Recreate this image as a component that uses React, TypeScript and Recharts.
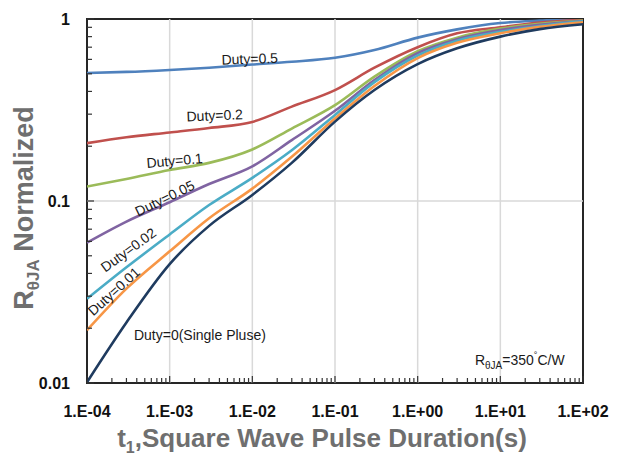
import React from "react";
import {
  LineChart,
  Line,
  XAxis,
  YAxis,
  ReferenceLine,
  ReferenceArea,
  ReferenceDot,
} from "recharts";

// pulse duration t1 (s) and normalized R_thetaJA
const pulseTimes = [1e-4, 3e-4, 1e-3, 3e-3, 1e-2, 3e-2, 1e-1, 3e-1, 1, 3, 10, 30, 100];
const duty05 = [0.505, 0.512, 0.525, 0.54, 0.562, 0.582, 0.612, 0.675, 0.79, 0.877, 0.95, 0.98, 1.0];
const duty02 = [0.208, 0.224, 0.238, 0.252, 0.272, 0.33, 0.407, 0.54, 0.7, 0.834, 0.9, 0.955, 0.99];
const duty01 = [0.12, 0.132, 0.148, 0.162, 0.192, 0.25, 0.336, 0.482, 0.665, 0.79, 0.885, 0.94, 0.98];
const duty005 = [0.059, 0.077, 0.0985, 0.124, 0.155, 0.216, 0.313, 0.462, 0.65, 0.775, 0.87, 0.93, 0.975];
const duty002 = [0.029, 0.0432, 0.0655, 0.095, 0.134, 0.19, 0.297, 0.45, 0.63, 0.76, 0.85, 0.915, 0.97];
const duty001 = [0.0195, 0.033, 0.0529, 0.0804, 0.117, 0.175, 0.284, 0.428, 0.61, 0.74, 0.835, 0.905, 0.96];
const duty0 = [0.0101, 0.0215, 0.045, 0.073, 0.108, 0.162, 0.273, 0.407, 0.565, 0.69, 0.8, 0.88, 0.935];

const seriesKeys = ["d05", "d02", "d01", "d005", "d002", "d001", "d0"];
const seriesValues = [duty05, duty02, duty01, duty005, duty002, duty001, duty0];
const seriesColors = ["#4f81bd", "#c0504d", "#9bbb59", "#8064a2", "#4bacc6", "#f79646", "#1f3b5f"];

const xMajor = [1e-4, 1e-3, 1e-2, 1e-1, 1, 10, 100];
const xTickLabels = ["1.E-04", "1.E-03", "1.E-02", "1.E-01", "1.E+00", "1.E+01", "1.E+02"];
const yMajor = [0.01, 0.1, 1];
const yTickLabels = ["0.01", "0.1", "1"];
const minorSteps = [2, 3, 4, 5, 6, 7, 8, 9];

// curve annotations: text, baseline midpoint in data units, rotation
const noteTexts = ["Duty=0.5", "Duty=0.2", "Duty=0.1", "Duty=0.05", "Duty=0.02", "Duty=0.01", "Duty=0(Single Pluse)"];
const noteT = [9.35e-3, 3.53e-3, 1.16e-3, 9.27e-4, 3.43e-4, 2.31e-4, 2.32e-3];
const noteR = [0.568, 0.2776, 0.1567, 0.0979, 0.0512, 0.0304, 0.01723];
const noteAngle = [-2, -2.5, -5, -26, -36, -42, 0];

const data = pulseTimes.map((t, i) => {
  const row: Record<string, number> = { t };
  seriesKeys.forEach((k, s) => {
    row[k] = seriesValues[s][i];
  });
  return row;
});

const withMinor = (major: number[]) =>
  major.flatMap((d, i) => (i < major.length - 1 ? [d, ...minorSteps.map((m) => m * d)] : [d]));

const xTicks = withMinor(xMajor);
const yTicks = withMinor(yMajor);

const majorIndex = (list: number[], v: number) =>
  list.findIndex((m) => Math.abs(m - v) / m < 1e-9);

const FONT = "'Liberation Sans', Arial, sans-serif";
const GRAY = "#6f6f6f";

const XTick = (props: any) => {
  const { x, y, payload } = props;
  const idx = majorIndex(xMajor, payload.value);
  return (
    <g>
      <line x1={x} x2={x} y1={y} y2={y - (idx >= 0 ? 7 : 5)} stroke="#333" strokeWidth={1.2} />
      {idx >= 0 && (
        <text x={x} y={y + 34} textAnchor="middle" fontSize={16} fontWeight="bold" fill="#111" fontFamily={FONT}>
          {xTickLabels[idx]}
        </text>
      )}
    </g>
  );
};

const YTick = (props: any) => {
  const { x, y, payload } = props;
  const idx = majorIndex(yMajor, payload.value);
  return (
    <g>
      <line x1={x} x2={x + (idx >= 0 ? 7 : 5)} y1={y} y2={y} stroke="#333" strokeWidth={1.2} />
      {idx >= 0 && (
        <text x={x - 17} y={y + 6} textAnchor="end" fontSize={16} fontWeight="bold" fill="#111" fontFamily={FONT}>
          {yTickLabels[idx]}
        </text>
      )}
    </g>
  );
};

const XTitle = () => (
  <text x={322} y={447} textAnchor="middle" fontSize={26} fontWeight="bold" fill={GRAY} fontFamily={FONT}>
    t
    <tspan fontSize={16} dy={6}>1</tspan>
    <tspan fontSize={26} dy={-6}>,Square Wave Pulse Duration(s)</tspan>
  </text>
);

const YTitle = () => (
  <text
    x={33}
    y={208}
    transform="rotate(-90 33 208)"
    textAnchor="middle"
    fontSize={27}
    fontWeight="bold"
    fill={GRAY}
    fontFamily={FONT}
  >
    R
    <tspan fontSize={17} dy={6}>θJA</tspan>
    <tspan fontSize={27} dy={-6}> Normalized</tspan>
  </text>
);

const App = () => {
  return (
    <div>
      <style>{"body{margin:0;background:#fff}"}</style>
      <LineChart width={620} height={457} data={data} margin={{ top: 19, right: 37, left: 7, bottom: 14 }}>
        <XAxis
          dataKey="t"
          type="number"
          scale="log"
          domain={[1e-4, 100]}
          allowDataOverflow
          ticks={xTicks}
          interval={0}
          tick={<XTick />}
          tickLine={false}
          tickSize={0}
          tickMargin={0}
          axisLine={false}
          height={60}
          label={<XTitle />}
        />
        <YAxis
          type="number"
          scale="log"
          domain={[0.01, 1]}
          allowDataOverflow
          ticks={yTicks}
          interval={0}
          tick={<YTick />}
          tickLine={false}
          tickSize={0}
          tickMargin={0}
          axisLine={false}
          width={80}
          label={<YTitle />}
        />
        {xMajor.slice(1, -1).map((v) => (
          <ReferenceLine key={v} x={v} stroke="#d9d9d9" strokeWidth={1.5} />
        ))}
        <ReferenceLine y={0.1} stroke="#d9d9d9" strokeWidth={1.5} />
        {seriesKeys.map((k, s) => (
          <Line
            key={k}
            dataKey={k}
            type="monotone"
            stroke={seriesColors[s]}
            strokeWidth={2.6}
            dot={false}
            isAnimationActive={false}
          />
        ))}
        <ReferenceArea x1={1e-4} x2={100} y1={0.01} y2={1} fill="none" fillOpacity={0} stroke="#262626" strokeWidth={2} />
        {noteTexts.map((txt, i) => (
          <ReferenceDot
            key={txt}
            x={noteT[i]}
            y={noteR[i]}
            r={0}
            shape={(p: any) => (
              <text
                transform={`translate(${p.cx} ${p.cy}) rotate(${noteAngle[i]})`}
                x={0}
                y={0}
                textAnchor="middle"
                fontSize={14}
                fill="#1a1a1a"
                fontFamily={FONT}
              >
                {txt}
              </text>
            )}
          />
        ))}
        <ReferenceDot
          x={17.2}
          y={0.01256}
          r={0}
          shape={(p: any) => (
            <text x={p.cx} y={p.cy} textAnchor="middle" fontSize={14} fill="#1a1a1a" fontFamily={FONT}>
              R
              <tspan fontSize={10} dy={4}>θJA</tspan>
              <tspan fontSize={14} dy={-4}>=350</tspan>
              <tspan fontSize={9} dy={-7}>°</tspan>
              <tspan fontSize={14} dy={7}>C/W</tspan>
            </text>
          )}
        />
      </LineChart>
    </div>
  );
};

export default App;
